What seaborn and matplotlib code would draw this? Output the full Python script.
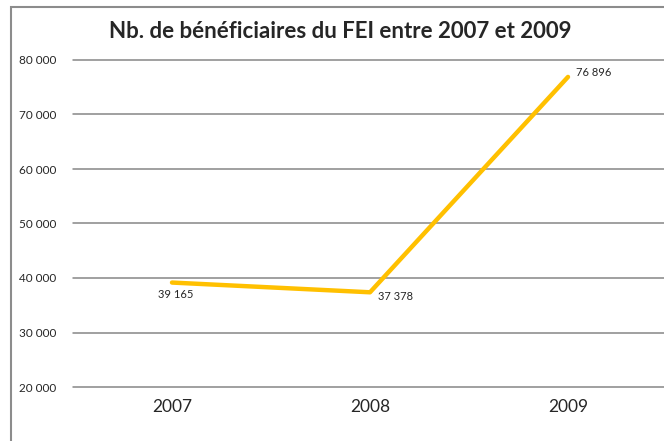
import pandas as pd
import matplotlib.pyplot as plt
import seaborn as sns
from matplotlib.patches import Rectangle

# données du graphique
years = ["2007", "2008", "2009"]
beneficiaires = [39165, 37378, 76896]
y_ticks = [20000, 30000, 40000, 50000, 60000, 70000, 80000]


def fmt(v):
    # séparateur de milliers à l'espace
    return f"{v:,}".replace(",", " ")


def main():
    sns.set_style("white")
    plt.rcParams["font.family"] = ["Lato", "DejaVu Sans"]

    df = pd.DataFrame({"annee": years, "nb": beneficiaires})

    fig = plt.figure(figsize=(6.64, 4.41), dpi=100)
    ax = fig.add_axes([73 / 664, 54 / 441, 594 / 664, 327 / 441])

    sns.lineplot(data=df, x="annee", y="nb", color="#FFC000", linewidth=3.2,
                 solid_capstyle="round", ax=ax)

    ax.set_xlim(-0.5, 2.5)
    ax.set_ylim(20000, 80000)
    ax.set_yticks(y_ticks)
    ax.set_yticklabels([fmt(t) for t in y_ticks], fontsize=8.5)
    ax.tick_params(axis="y", length=0, pad=12)
    ax.tick_params(axis="x", length=0, pad=9, labelsize=12.5)
    ax.set_xlabel("")
    ax.set_ylabel("")
    ax.grid(axis="y", color="#868686", linewidth=1.1)
    for gl in ax.get_ygridlines():
        gl.set_clip_on(False)
    ax.set_axisbelow(True)
    for s in ax.spines.values():
        s.set_visible(False)

    # étiquettes de données
    ax.annotate(fmt(beneficiaires[0]), (0, beneficiaires[0]), xytext=(3, -5),
                textcoords="offset points", ha="center", va="top", fontsize=8)
    ax.annotate(fmt(beneficiaires[1]), (1, beneficiaires[1]), xytext=(6, 1),
                textcoords="offset points", ha="left", va="top", fontsize=8)
    ax.annotate(fmt(beneficiaires[2]), (2, beneficiaires[2]), xytext=(6, 3),
                textcoords="offset points", ha="left", va="center", fontsize=8)

    fig.text(340 / 664, 1 - 31 / 441, "Nb. de bénéficiaires du FEI entre 2007 et 2009",
             ha="center", va="center", fontsize=16, fontweight="bold")

    # cadre du graphique
    fig.patches.append(Rectangle((11 / 664, -0.1), 1.0, 1.1 - 7 / 441,
                                 transform=fig.transFigure, fill=False,
                                 edgecolor="#8c8c8c", linewidth=1.5))

    plt.savefig("out.png", dpi=100)


if __name__ == "__main__":
    main()
